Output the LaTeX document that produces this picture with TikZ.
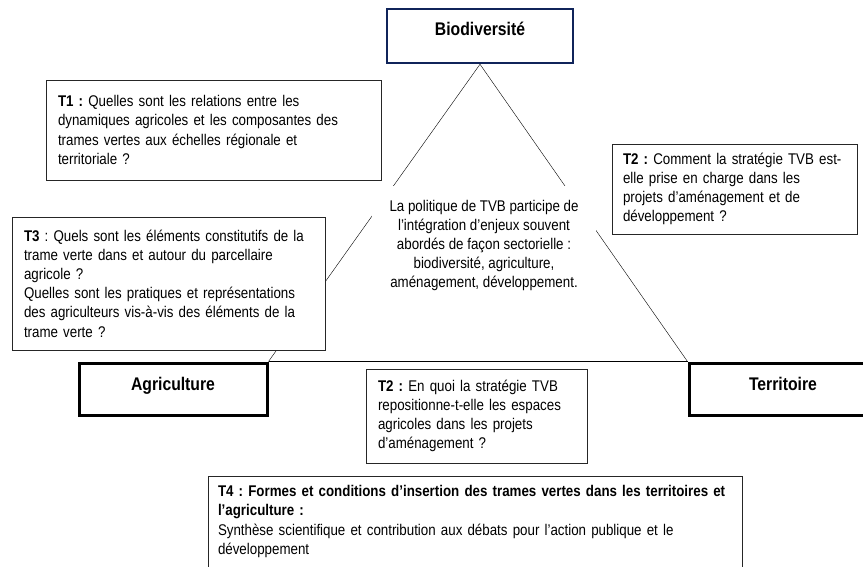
\documentclass[tikz,border=0pt]{standalone}
\usepackage{fontspec}
\setmainfont[FakeStretch=0.86]{Liberation Sans}
\usepackage{xcolor}
\definecolor{navy}{RGB}{16,36,90}

\begin{document}
\frenchspacing
\begin{tikzpicture}[x=1pt, y=-1pt,
  font=\fontsize{15.5}{19.2}\selectfont,
  pole/.style={draw, line width=3pt, font=\bfseries\fontsize{18.3}{20}\selectfont,
    text height=13.1pt, text depth=11.1pt, inner sep=0pt,
    minimum width=188pt, minimum height=52pt},
  question/.style={draw=black!85, fill=white, line width=0.9pt, align=left,
    inner xsep=12pt, inner ysep=0pt}]
\path [use as bounding box, fill=white] (0,0) rectangle (863,566);
\clip (0,0) rectangle (863,566);
\node [pole, draw=navy, line width=2.5pt, minimum width=186pt, minimum height=54pt, text depth=15.1pt] (bio) at (480,36) {Biodiversité};
\node [pole] (agri) at (173,389) {Agriculture};
\node [pole] (terr) at (783,389) {Territoire};
\draw (bio.south) -- (agri.north east);
\draw (bio.south) -- (terr.north west);
\draw (agri.north east) -- (terr.north west);
\node [question, text width=311pt, minimum height=100pt] (t1) at (213.5,130) {\textbf{T1 :} Quelles sont les relations entre les\\dynamiques agricoles et les composantes des\\trames vertes aux échelles régionale et\\territoriale ?};
\node [question, inner xsep=11pt, text width=223pt, minimum height=90pt] (t2) at (734.5,189) {\textbf{T2 :} Comment la stratégie TVB est-\\elle prise en charge dans les\\projets d'aménagement et de\\développement ?};
\node [question, text width=289pt, minimum height=133pt] (t3) at (168.5,283.5) {\textbf{T3} : Quels sont les éléments constitutifs de la\\trame verte dans et autour du parcellaire\\agricole ?\\Quelles sont les pratiques et représentations\\des agriculteurs vis-à-vis des éléments de la\\trame verte ?};
\node [question, text width=197pt, minimum height=94pt] (t2b) at (476.5,416) {\textbf{T2 :} En quoi la stratégie TVB\\repositionne-t-elle les espaces\\agricoles dans les projets\\d’aménagement ?};
\node [question, inner xsep=10pt, text width=514pt, minimum height=91pt] (t4) at (475,521.5) {\textbf{T4 : Formes et conditions d’insertion des trames vertes dans les territoires et}\\\textbf{l’agriculture :}\\Synthèse scientifique et contribution aux débats pour l’action publique et le\\développement};
\node [fill=white, align=center, inner sep=0pt, minimum width=224pt, minimum height=119pt] (policy) at (484,245.5) {La politique de TVB participe de\\l’intégration d’enjeux souvent\\abordés de façon sectorielle :\\biodiversité, agriculture,\\aménagement, développement.};
\end{tikzpicture}
\end{document}
